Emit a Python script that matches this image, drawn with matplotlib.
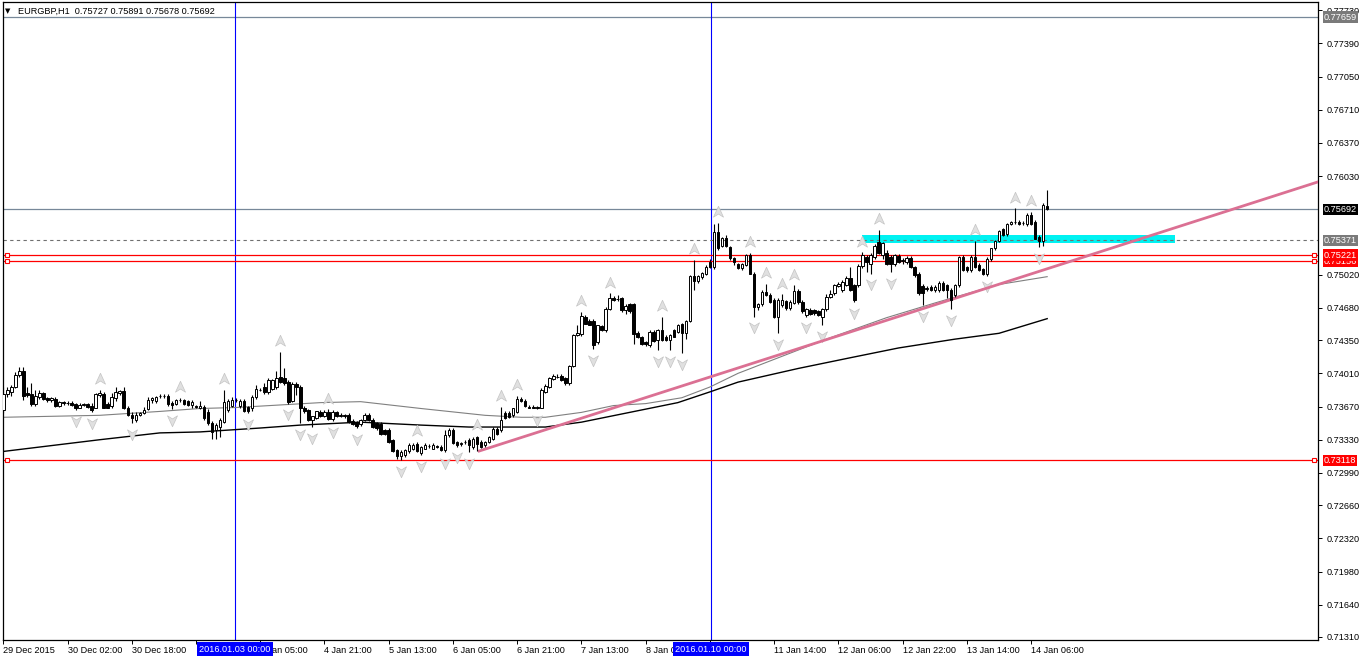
import numpy as np
import matplotlib.pyplot as plt
from matplotlib.path import Path
from matplotlib.patches import Rectangle

plt.rcParams['font.family'] = ['Liberation Sans', 'DejaVu Sans']

# EURGBP H1 candles (bar 0 = 29 Dec 2015)
opens = [
    0.7363, 0.7380, 0.7382, 0.7387, 0.7399, 0.7403, 0.7381, 0.7380, 0.7370, 0.7377,
    0.7381, 0.7376, 0.7374, 0.7375, 0.7368, 0.7372, 0.7371, 0.7371, 0.7370, 0.7366,
    0.7369, 0.7370, 0.7368, 0.7366, 0.7379, 0.7380, 0.7370, 0.7368, 0.7376, 0.7381,
    0.7383, 0.7366, 0.7358, 0.7353, 0.7358, 0.7360, 0.7364, 0.7374, 0.7373, 0.7378,
    0.7378, 0.7378, 0.7371, 0.7370, 0.7374, 0.7374, 0.7373, 0.7369, 0.7368, 0.7366,
    0.7367, 0.7361, 0.7350, 0.7343, 0.7346, 0.7351, 0.7363, 0.7368, 0.7374, 0.7368,
    0.7373, 0.7367, 0.7365, 0.7377, 0.7384, 0.7387, 0.7382, 0.7385, 0.7387, 0.7397,
    0.7396, 0.7392, 0.7373, 0.7390, 0.7387, 0.7366, 0.7363, 0.7353, 0.7355, 0.7361,
    0.7357, 0.7361, 0.7354, 0.7361, 0.7357, 0.7358, 0.7358, 0.7352, 0.7351, 0.7349,
    0.7353, 0.7358, 0.7353, 0.7350, 0.7349, 0.7343, 0.7343, 0.7333, 0.7322, 0.7316,
    0.7317, 0.7321, 0.7324, 0.7329, 0.7319, 0.7324, 0.7327, 0.7324, 0.7327, 0.7326,
    0.7322, 0.7338, 0.7343, 0.7331, 0.7329, 0.7331, 0.7333, 0.7326, 0.7336, 0.7331,
    0.7328, 0.7331, 0.7334, 0.7344, 0.7343, 0.7360, 0.7360, 0.7358, 0.7361, 0.7375,
    0.7373, 0.7367, 0.7367, 0.7367, 0.7366, 0.7382, 0.7387, 0.7395, 0.7397, 0.7398,
    0.7396, 0.7391, 0.7409, 0.7440, 0.7441, 0.7459, 0.7455, 0.7455, 0.7433, 0.7449,
    0.7445, 0.7467, 0.7478, 0.7477, 0.7478, 0.7466, 0.7472, 0.7472, 0.7442, 0.7438,
    0.7433, 0.7430, 0.7443, 0.7435, 0.7445, 0.7438, 0.7435, 0.7445, 0.7443, 0.7452,
    0.7442, 0.7455, 0.7501, 0.7496, 0.7500, 0.7503, 0.7515, 0.7510, 0.7546, 0.7531,
    0.7540, 0.7530, 0.7519, 0.7513, 0.7509, 0.7512, 0.7522, 0.7503, 0.7469, 0.7472,
    0.7484, 0.7481, 0.7476, 0.7459, 0.7471, 0.7475, 0.7468, 0.7473, 0.7485, 0.7474,
    0.7461, 0.7466, 0.7466, 0.7465, 0.7459, 0.7467, 0.7479, 0.7483, 0.7490, 0.7486,
    0.7491, 0.7499, 0.7491, 0.7491, 0.7511, 0.7520, 0.7513, 0.7520, 0.7536, 0.7522,
    0.7524, 0.7520, 0.7513, 0.7521, 0.7516, 0.7515, 0.7519, 0.7510, 0.7503, 0.7490,
    0.7487, 0.7489, 0.7486, 0.7486, 0.7494, 0.7491, 0.7486, 0.7481, 0.7491, 0.7520,
    0.7510, 0.7507, 0.7520, 0.7512, 0.7508, 0.7503, 0.7518, 0.7529, 0.7537, 0.7549,
    0.7544, 0.7554, 0.7556, 0.7556, 0.7555, 0.7554, 0.7563, 0.7556, 0.7541, 0.7537,
    0.75727,
]
highs = [
    0.7387, 0.7387, 0.7389, 0.7402, 0.7408, 0.7408, 0.7387, 0.7391, 0.7384, 0.7384,
    0.7382, 0.7377, 0.7377, 0.7377, 0.7373, 0.7373, 0.7373, 0.7373, 0.7371, 0.7371,
    0.7371, 0.7371, 0.7371, 0.7381, 0.7384, 0.7382, 0.7372, 0.7381, 0.7387, 0.7384,
    0.7387, 0.7368, 0.7361, 0.7361, 0.7361, 0.7367, 0.7377, 0.7377, 0.7378, 0.7380,
    0.7380, 0.7380, 0.7373, 0.7375, 0.7376, 0.7375, 0.7374, 0.7374, 0.7369, 0.7373,
    0.7369, 0.7364, 0.7352, 0.7350, 0.7355, 0.7384, 0.7375, 0.7377, 0.7376, 0.7375,
    0.7375, 0.7368, 0.7379, 0.7389, 0.7386, 0.7391, 0.7396, 0.7395, 0.7403, 0.7423,
    0.7406, 0.7394, 0.7392, 0.7392, 0.7389, 0.7368, 0.7364, 0.7356, 0.7362, 0.7363,
    0.7363, 0.7364, 0.7363, 0.7362, 0.7360, 0.7359, 0.7360, 0.7354, 0.7352, 0.7354,
    0.7360, 0.7360, 0.7355, 0.7351, 0.7351, 0.7344, 0.7345, 0.7334, 0.7324, 0.7322,
    0.7324, 0.7330, 0.7330, 0.7331, 0.7327, 0.7330, 0.7329, 0.7330, 0.7328, 0.7328,
    0.7343, 0.7345, 0.7345, 0.7332, 0.7331, 0.7333, 0.7335, 0.7336, 0.7337, 0.7333,
    0.7332, 0.7337, 0.7346, 0.7346, 0.7367, 0.7362, 0.7362, 0.7366, 0.7378, 0.7377,
    0.7375, 0.7369, 0.7369, 0.7368, 0.7386, 0.7390, 0.7397, 0.7400, 0.7400, 0.7400,
    0.7397, 0.7410, 0.7441, 0.7450, 0.7464, 0.7461, 0.7457, 0.7457, 0.7451, 0.7450,
    0.7469, 0.7483, 0.7480, 0.7481, 0.7479, 0.7472, 0.7473, 0.7473, 0.7444, 0.7439,
    0.7434, 0.7445, 0.7445, 0.7446, 0.7459, 0.7440, 0.7441, 0.7446, 0.7452, 0.7453,
    0.7456, 0.7502, 0.7517, 0.7502, 0.7505, 0.7512, 0.7518, 0.7554, 0.7555, 0.7541,
    0.7543, 0.7531, 0.7520, 0.7514, 0.7514, 0.7523, 0.7524, 0.7505, 0.7473, 0.7486,
    0.7493, 0.7483, 0.7478, 0.7478, 0.7482, 0.7476, 0.7476, 0.7491, 0.7487, 0.7476,
    0.7468, 0.7468, 0.7467, 0.7466, 0.7468, 0.7482, 0.7486, 0.7493, 0.7495, 0.7497,
    0.7501, 0.7510, 0.7492, 0.7513, 0.7525, 0.7522, 0.7524, 0.7533, 0.7548, 0.7536,
    0.7527, 0.7522, 0.7523, 0.7523, 0.7519, 0.7521, 0.7521, 0.7511, 0.7505, 0.7492,
    0.7490, 0.7491, 0.7491, 0.7496, 0.7496, 0.7493, 0.7488, 0.7493, 0.7521, 0.7522,
    0.7511, 0.7522, 0.7537, 0.7514, 0.7509, 0.7520, 0.7529, 0.7538, 0.7548, 0.7550,
    0.7555, 0.7557, 0.7570, 0.7558, 0.7557, 0.7565, 0.7566, 0.7558, 0.7543, 0.7575,
    0.75891,
]
lows = [
    0.7360, 0.7377, 0.7378, 0.7386, 0.7397, 0.7374, 0.7377, 0.7368, 0.7368, 0.7375,
    0.7374, 0.7372, 0.7372, 0.7367, 0.7367, 0.7369, 0.7369, 0.7368, 0.7363, 0.7365,
    0.7368, 0.7366, 0.7361, 0.7365, 0.7377, 0.7365, 0.7365, 0.7366, 0.7373, 0.7379,
    0.7364, 0.7357, 0.7350, 0.7351, 0.7357, 0.7359, 0.7363, 0.7371, 0.7371, 0.7376,
    0.7376, 0.7368, 0.7364, 0.7369, 0.7372, 0.7369, 0.7368, 0.7365, 0.7366, 0.7364,
    0.7353, 0.7348, 0.7334, 0.7334, 0.7336, 0.7350, 0.7361, 0.7367, 0.7372, 0.7366,
    0.7361, 0.7360, 0.7362, 0.7375, 0.7383, 0.7380, 0.7380, 0.7384, 0.7385, 0.7391,
    0.7389, 0.7370, 0.7372, 0.7379, 0.7350, 0.7360, 0.7352, 0.7346, 0.7354, 0.7356,
    0.7356, 0.7353, 0.7352, 0.7356, 0.7356, 0.7355, 0.7350, 0.7348, 0.7345, 0.7347,
    0.7352, 0.7352, 0.7345, 0.7343, 0.7338, 0.7338, 0.7330, 0.7320, 0.7313, 0.7312,
    0.7315, 0.7319, 0.7322, 0.7320, 0.7317, 0.7323, 0.7325, 0.7323, 0.7325, 0.7321,
    0.7320, 0.7336, 0.7329, 0.7326, 0.7327, 0.7329, 0.7320, 0.7324, 0.7321, 0.7325,
    0.7326, 0.7330, 0.7333, 0.7338, 0.7341, 0.7354, 0.7355, 0.7356, 0.7360, 0.7372,
    0.7367, 0.7365, 0.7365, 0.7364, 0.7365, 0.7381, 0.7386, 0.7394, 0.7396, 0.7393,
    0.7389, 0.7389, 0.7408, 0.7439, 0.7439, 0.7452, 0.7450, 0.7426, 0.7431, 0.7444,
    0.7443, 0.7466, 0.7475, 0.7475, 0.7464, 0.7462, 0.7463, 0.7431, 0.7437, 0.7430,
    0.7429, 0.7428, 0.7433, 0.7425, 0.7434, 0.7434, 0.7425, 0.7438, 0.7442, 0.7422,
    0.7436, 0.7454, 0.7486, 0.7494, 0.7498, 0.7502, 0.7509, 0.7508, 0.7527, 0.7530,
    0.7530, 0.7517, 0.7512, 0.7508, 0.7507, 0.7511, 0.7503, 0.7459, 0.7466, 0.7470,
    0.7480, 0.7473, 0.7458, 0.7442, 0.7469, 0.7466, 0.7466, 0.7472, 0.7472, 0.7463,
    0.7459, 0.7461, 0.7461, 0.7460, 0.7450, 0.7465, 0.7478, 0.7481, 0.7489, 0.7484,
    0.7490, 0.7485, 0.7474, 0.7489, 0.7509, 0.7505, 0.7503, 0.7518, 0.7523, 0.7518,
    0.7512, 0.7505, 0.7511, 0.7514, 0.7513, 0.7513, 0.7509, 0.7500, 0.7481, 0.7471,
    0.7485, 0.7485, 0.7484, 0.7484, 0.7485, 0.7478, 0.7467, 0.7479, 0.7489, 0.7506,
    0.7505, 0.7505, 0.7509, 0.7506, 0.7502, 0.7501, 0.7516, 0.7527, 0.7535, 0.7542,
    0.7542, 0.7553, 0.7554, 0.7553, 0.7553, 0.7552, 0.7553, 0.7539, 0.7530, 0.7531,
    0.75678,
]
closes = [
    0.7380, 0.7384, 0.7387, 0.7399, 0.7403, 0.7378, 0.7379, 0.7370, 0.7378, 0.7381,
    0.7375, 0.7374, 0.7376, 0.7368, 0.7372, 0.7371, 0.7371, 0.7369, 0.7365, 0.7369,
    0.7370, 0.7367, 0.7363, 0.7380, 0.7381, 0.7366, 0.7366, 0.7377, 0.7382, 0.7383,
    0.7366, 0.7358, 0.7355, 0.7358, 0.7360, 0.7363, 0.7374, 0.7376, 0.7377, 0.7378,
    0.7378, 0.7370, 0.7369, 0.7374, 0.7374, 0.7370, 0.7369, 0.7372, 0.7367, 0.7368,
    0.7355, 0.7350, 0.7341, 0.7348, 0.7353, 0.7372, 0.7373, 0.7374, 0.7374, 0.7373,
    0.7362, 0.7362, 0.7377, 0.7385, 0.7384, 0.7382, 0.7394, 0.7394, 0.7396, 0.7392,
    0.7391, 0.7372, 0.7390, 0.7387, 0.7365, 0.7362, 0.7353, 0.7357, 0.7362, 0.7357,
    0.7361, 0.7354, 0.7361, 0.7357, 0.7358, 0.7357, 0.7351, 0.7349, 0.7347, 0.7353,
    0.7358, 0.7353, 0.7346, 0.7345, 0.7339, 0.7339, 0.7331, 0.7321, 0.7316, 0.7320,
    0.7322, 0.7328, 0.7328, 0.7321, 0.7326, 0.7328, 0.7327, 0.7328, 0.7326, 0.7322,
    0.7338, 0.7343, 0.7330, 0.7328, 0.7330, 0.7331, 0.7328, 0.7334, 0.7329, 0.7326,
    0.7331, 0.7336, 0.7344, 0.7339, 0.7353, 0.7355, 0.7356, 0.7365, 0.7375, 0.7373,
    0.7368, 0.7366, 0.7366, 0.7365, 0.7384, 0.7388, 0.7396, 0.7398, 0.7397, 0.7394,
    0.7391, 0.7409, 0.7440, 0.7442, 0.7460, 0.7452, 0.7451, 0.7430, 0.7450, 0.7445,
    0.7467, 0.7478, 0.7476, 0.7477, 0.7466, 0.7470, 0.7465, 0.7441, 0.7438, 0.7431,
    0.7431, 0.7443, 0.7434, 0.7445, 0.7435, 0.7435, 0.7440, 0.7438, 0.7451, 0.7442,
    0.7455, 0.7501, 0.7496, 0.7501, 0.7504, 0.7510, 0.7510, 0.7546, 0.7529, 0.7540,
    0.7531, 0.7519, 0.7515, 0.7509, 0.7513, 0.7522, 0.7503, 0.7469, 0.7472, 0.7484,
    0.7481, 0.7474, 0.7459, 0.7476, 0.7476, 0.7468, 0.7474, 0.7485, 0.7474, 0.7465,
    0.7467, 0.7462, 0.7463, 0.7461, 0.7467, 0.7479, 0.7482, 0.7491, 0.7493, 0.7495,
    0.7499, 0.7486, 0.7476, 0.7511, 0.7522, 0.7515, 0.7522, 0.7531, 0.7524, 0.7534,
    0.7513, 0.7513, 0.7522, 0.7515, 0.7517, 0.7519, 0.7510, 0.7502, 0.7483, 0.7483,
    0.7488, 0.7486, 0.7489, 0.7494, 0.7486, 0.7486, 0.7476, 0.7491, 0.7520, 0.7507,
    0.7507, 0.7520, 0.7510, 0.7507, 0.7503, 0.7518, 0.7529, 0.7537, 0.7547, 0.7543,
    0.7554, 0.7556, 0.7556, 0.7554, 0.7555, 0.7563, 0.7554, 0.7539, 0.7537, 0.7573,
    0.75692,
]

# time axis: one label every 16 bars (two of them sit under the separator boxes)
time_labels = ["29 Dec 2015", "30 Dec 02:00", "30 Dec 18:00", "",
               "4 Jan 05:00", "4 Jan 21:00", "5 Jan 13:00", "6 Jan 05:00",
               "6 Jan 21:00", "7 Jan 13:00", "8 Jan 05:00", "",
               "11 Jan 14:00", "12 Jan 06:00", "12 Jan 22:00", "13 Jan 14:00",
               "14 Jan 06:00"]
label_every = 16

price_ticks = [0.77730, 0.77390, 0.77050, 0.76710, 0.76370, 0.76030, 0.75020,
               0.74680, 0.74350, 0.74010, 0.73670, 0.73330, 0.72990, 0.72660,
               0.72320, 0.71980, 0.71640, 0.71310]

# moving averages (bar, price)
gray_ma_bars = [0, 24, 39, 49, 58, 79, 89, 104, 120, 129, 135, 144, 152, 160, 169,
                176, 183, 205, 220, 232, 237, 248, 260]
gray_ma = [0.7356, 0.7358, 0.7362, 0.7365, 0.7366, 0.7371, 0.7372, 0.7365, 0.7358,
           0.7356, 0.7356, 0.7361, 0.7368, 0.7370, 0.7376, 0.7387, 0.7401, 0.7436,
           0.7458, 0.7473, 0.7479, 0.7492, 0.7500]
black_ma_bars = [0, 24, 39, 49, 64, 74, 89, 104, 116, 129, 135, 144, 156, 168, 176,
                 183, 198, 211, 223, 237, 248, 260]
black_ma = [0.7321, 0.7333, 0.7340, 0.7341, 0.7345, 0.7348, 0.7351, 0.7348, 0.7346,
            0.7346, 0.7346, 0.7351, 0.7361, 0.7371, 0.7382, 0.7392, 0.7406, 0.7417,
            0.7427, 0.7436, 0.7442, 0.7457]

# objects on the chart
high_level = 0.77659
bid_level = 0.75692
dashed_level = 0.75371
red_levels = [0.75156, 0.75221, 0.73118]
zone_bars = [213.9, 291.8]
zone_prices = [0.75343, 0.75426]
trend_bars = [118.2, 327.4]
trend_prices = [0.7321, 0.7597]
sep_bars = [57.7, 176.3]
sep_labels = ["2016.01.03 00:00", "2016.01.10 00:00"]
title = "EURGBP,H1  0.75727 0.75891 0.75678 0.75692"

W, H = 1362, 661
fig = plt.figure(figsize=(W / 100, H / 100), dpi=100)
ax = fig.add_axes([3 / W, 21 / H, 1315 / W, 638 / H])
ax.set_xlim(-0.07, 327.45)
ax.set_ylim(0.71279, 0.77813)

o = np.array(opens)
h = np.array(highs)
l = np.array(lows)
c = np.array(closes)
x = np.arange(len(o))
up = c >= o

# zone, lines
ax.add_patch(Rectangle((zone_bars[0], zone_prices[0]), zone_bars[1] - zone_bars[0],
                       zone_prices[1] - zone_prices[0], facecolor='#00f2f2',
                       edgecolor='none', zorder=1))
ax.axhline(high_level, color='#778899', lw=0.9, zorder=1)
ax.axhline(bid_level, color='#778899', lw=0.9, zorder=1)
ax.axhline(dashed_level, color='#707070', lw=0.8, ls=(0, (3, 3)), zorder=2)
for lv in red_levels:
    ax.axhline(lv, color='#ff0000', lw=0.9, zorder=2)
    ax.plot([0.003, 0.997], [lv, lv], transform=ax.get_yaxis_transform(),
            ls='none', marker='s', ms=3.5, mfc='white', mec='#ff0000', mew=0.8,
            zorder=6, clip_on=False)
for sb in sep_bars:
    ax.axvline(sb, color='#0000ff', lw=0.8, zorder=1)

ax.plot(gray_ma_bars, gray_ma, color='#808080', lw=0.8, zorder=2)
ax.plot(black_ma_bars, black_ma, color='black', lw=1.0, zorder=2)

slope = (trend_prices[1] - trend_prices[0]) / (trend_bars[1] - trend_bars[0])
tx = np.array([trend_bars[0], 340])
ax.plot(tx, trend_prices[0] + slope * (tx - trend_bars[0]), color='#db7093',
        lw=2.0, zorder=3, solid_capstyle='butt')

# fractal arrows
n = len(h)
frac_up = [i for i in range(2, n - 2)
           if h[i] > max(h[i - 2], h[i - 1]) and h[i] > max(h[i + 1], h[i + 2])]
frac_dn = [i for i in range(2, n - 2)
           if l[i] < min(l[i - 2], l[i - 1]) and l[i] < min(l[i + 1], l[i + 2])]
verts = [(0, 1), (0.8, -0.75), (0, -0.25), (-0.8, -0.75), (0, 1)]
codes = [Path.MOVETO, Path.LINETO, Path.LINETO, Path.LINETO, Path.CLOSEPOLY]
arrow_up = Path(verts, codes)
arrow_dn = Path([(vx, -vy) for vx, vy in verts], codes)
ax.plot(x[frac_up], h[frac_up] + 0.0011, ls='none', marker=arrow_up, ms=9,
        mfc='#e0e0e0', mec='#c4c4c4', mew=0.5, zorder=2)
ax.plot(x[frac_dn], l[frac_dn] - 0.0011, ls='none', marker=arrow_dn, ms=9,
        mfc='#e0e0e0', mec='#c4c4c4', mew=0.5, zorder=2)

# candles
ax.vlines(x, l, h, color='black', lw=0.8, zorder=4)
body_lo = np.minimum(o, c)
body_h = np.abs(c - o)
ax.bar(x[up], body_h[up], bottom=body_lo[up], width=0.62, facecolor='white',
       edgecolor='black', lw=0.7, zorder=5)
ax.bar(x[~up], body_h[~up], bottom=body_lo[~up], width=0.62, facecolor='black',
       edgecolor='black', lw=0.7, zorder=5)

# axes look
for side in ['left', 'right', 'bottom', 'top']:
    ax.spines[side].set_color('black')
    ax.spines[side].set_linewidth(0.9)
ax.yaxis.tick_right()
ax.set_yticks(price_ticks)
ax.set_yticklabels(["%.5f" % p for p in price_ticks])
ax.tick_params(axis='y', direction='out', length=3, width=0.7, pad=3, labelsize=6.6)
ax.set_xticks(np.arange(len(time_labels)) * label_every)
ax.set_xticklabels(time_labels, ha='left')
ax.tick_params(axis='x', direction='out', length=3, width=0.7, pad=1.5, labelsize=6.6)

# price labels on the right scale
ytr = ax.get_yaxis_transform()
boxes = [(high_level, '#7a7a7a'), (bid_level, 'black'), (dashed_level, '#7a7a7a'),
         (red_levels[0], '#ff0000'), (red_levels[1], '#ff0000'), (red_levels[2], '#ff0000')]
for lv, col in boxes:
    ax.text(1 + 6 / 1315, lv, "%.5f" % lv, transform=ytr, ha='left', va='center',
            fontsize=6.6, color='white', zorder=10, clip_on=False,
            bbox=dict(boxstyle='square,pad=0.12', facecolor=col, edgecolor='none'))

# separator date boxes on the time scale
xtr = ax.get_xaxis_transform()
for sb, lab in zip(sep_bars, sep_labels):
    ax.text(sb, -9 / 638, lab, transform=xtr, ha='center', va='center',
            fontsize=6.6, color='white', zorder=10, clip_on=False,
            bbox=dict(boxstyle='square,pad=0.25', facecolor='#0000ff', edgecolor='none'))

fig.text(5 / W, 1 - 11 / H, "\u25bc", fontsize=5, va='center', ha='left',
         family=['DejaVu Sans'])
fig.text(18 / W, 1 - 11 / H, title, fontsize=6.6, va='center', ha='left')

fig.savefig('out.png', dpi=100)
